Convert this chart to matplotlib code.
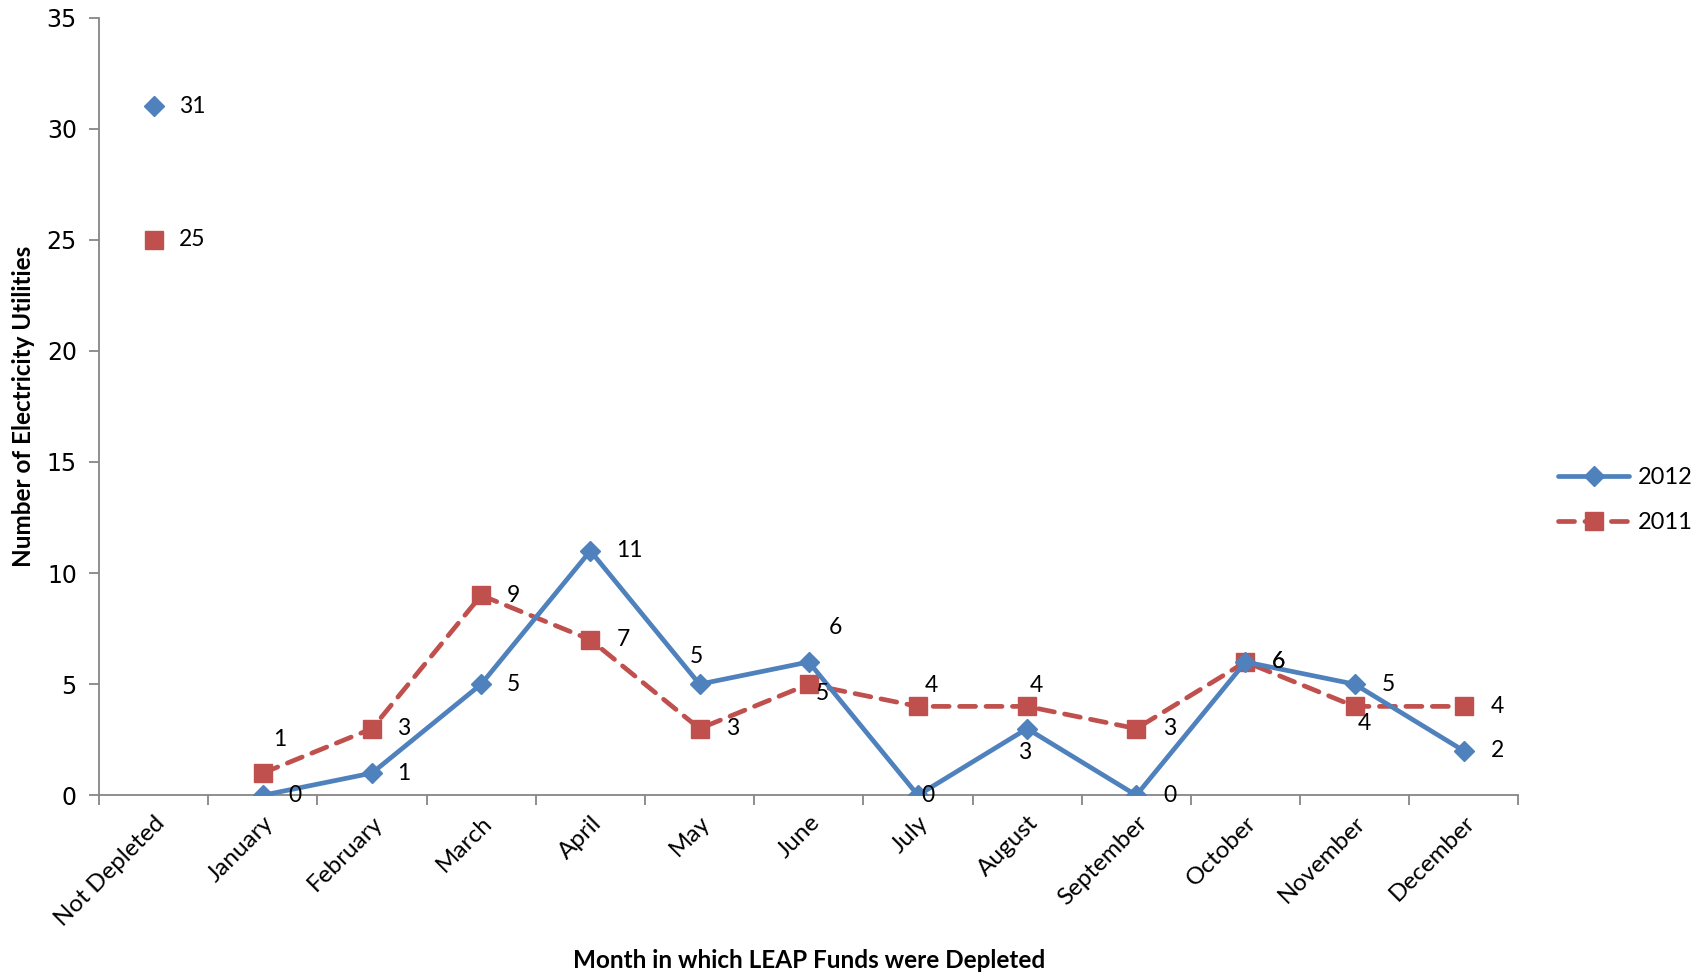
import matplotlib
matplotlib.use("Agg")
import matplotlib.pyplot as plt
from matplotlib.lines import Line2D

# --- Data ---
categories = ["Not Depleted", "January", "February", "March", "April", "May",
              "June", "July", "August", "September", "October", "November",
              "December"]
values_2012 = [31, 0, 1, 5, 11, 5, 6, 0, 3, 0, 6, 5, 2]
values_2011 = [25, 1, 3, 9, 7, 3, 5, 4, 4, 3, 6, 4, 4]
y_ticks = [0, 5, 10, 15, 20, 25, 30, 35]

# label offsets (points) for each data label
offsets_2012 = [(28, 0), (23, 0), (23, 0), (23, 0), (28, 0), (-2, 20),
                (19, 25), (7, 0), (-2, -17), (24, 0), (24, 0), (24, 0), (24, 0)]
offsets_2011 = [(28, 0), (12, 24), (23, 0), (23, 0), (24, 0), (24, 0),
                (10, -7), (10, 15), (7, 15), (24, 0), (24, 0), (7, -12), (24, 0)]

BLUE = "#4F81BD"
RED = "#C0504D"
GRAY = "#868686"

plt.rcParams["font.family"] = ["Lato", "DejaVu Sans"]

fig = plt.figure(figsize=(17.08, 9.77), dpi=100)
ax = fig.add_axes([0.058, 0.186, 0.831, 0.796])

x = list(range(len(categories)))

# 2012: solid line with diamonds (Not Depleted point unconnected)
ax.plot(x[1:], values_2012[1:], color=BLUE, lw=3.4, marker="D", ms=10,
        solid_capstyle="round", solid_joinstyle="round", zorder=3)
ax.plot(x[:1], values_2012[:1], color=BLUE, lw=0, marker="D", ms=10, zorder=3)

# 2011: dashed line with squares
ax.plot(x[1:], values_2011[1:], color=RED, lw=3.4, marker="s", ms=13,
        linestyle=(0, (3.4, 2.2)), dash_capstyle="round", zorder=2)
ax.plot(x[:1], values_2011[:1], color=RED, lw=0, marker="s", ms=13, zorder=2)

for xi, v, off in zip(x, values_2012, offsets_2012):
    ax.annotate(str(v), (xi, v), xytext=off, textcoords="offset points",
                ha="center", va="center", fontsize=16.5, color="black", zorder=4)
for xi, v, off in zip(x, values_2011, offsets_2011):
    ax.annotate(str(v), (xi, v), xytext=off, textcoords="offset points",
                ha="center", va="center", fontsize=16.5, color="black", zorder=4)

# axes styling
ax.set_xlim(-0.5, len(categories) - 0.5)
ax.set_ylim(0, 35)
for side in ["top", "right"]:
    ax.spines[side].set_visible(False)
for side in ["left", "bottom"]:
    ax.spines[side].set_color(GRAY)
    ax.spines[side].set_linewidth(1.3)

ax.set_yticks(y_ticks)
ax.set_yticklabels([str(t) for t in y_ticks], family="DejaVu Sans", fontsize=17)
ax.tick_params(axis="y", direction="out", length=7, width=1.3, color=GRAY, pad=9)

ax.set_xticks([i - 0.5 for i in range(len(categories) + 1)])
ax.set_xticklabels([])
ax.tick_params(axis="x", which="major", direction="out", length=7, width=1.3,
               color=GRAY)
ax.set_xticks(x, minor=True)
ax.set_xticklabels(categories, minor=True, rotation=45, ha="right",
                   rotation_mode="anchor", fontsize=17.5)
ax.tick_params(axis="x", which="minor", length=0, pad=12)

ax.set_xlabel("Month in which LEAP Funds were Depleted", fontsize=17.5,
              fontweight="bold", labelpad=14)
ax.set_ylabel("Number of Electricity Utilities", fontsize=17.5,
              fontweight="bold", labelpad=8)

handles = [
    Line2D([], [], color=BLUE, lw=3.4, marker="D", ms=10,
           solid_capstyle="round"),
    Line2D([], [], color=RED, lw=3.4, marker="s", ms=13,
           linestyle=(0, (3.4, 2.2)), dash_capstyle="round"),
]
fig.legend(handles, ["2012", "2011"], loc="center left",
           bbox_to_anchor=(0.9, 0.488), frameon=False, fontsize=17,
           handlelength=3.0, labelspacing=1.0, handletextpad=0.35)

fig.savefig("out.png", dpi=100)
